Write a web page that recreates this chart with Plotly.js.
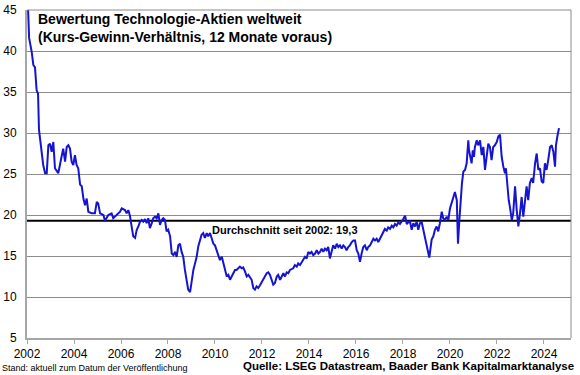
<!DOCTYPE html>
<html>
<head>
<meta charset="utf-8">
<script src="https://cdn.plot.ly/plotly-3.0.1.min.js"></script>
<style>
html,body{margin:0;padding:0;background:#fff;}
#chart{width:580px;height:375px;}
</style>
</head>
<body>
<div id="chart"></div>
<script>
// Decimal years
const dates = [
2002.00,2002.04,2002.09,2002.20,2002.27,2002.34,2002.41,2002.47,2002.51,2002.57,2002.63,2002.69,2002.77,2002.84,2002.91,2002.98,
2003.05,2003.12,2003.19,2003.33,2003.40,2003.48,2003.54,2003.62,2003.69,2003.76,2003.83,2003.90,2003.97,
2004.04,2004.11,2004.18,2004.26,2004.33,2004.40,2004.47,2004.54,2004.61,2004.75,2004.89,2004.97,
2005.03,2005.11,2005.25,2005.32,2005.46,2005.60,2005.67,2005.82,2005.96,
2006.03,2006.17,2006.24,2006.31,2006.38,2006.46,2006.52,2006.60,2006.67,2006.74,2006.81,2006.88,2006.95,
2007.02,2007.09,2007.16,2007.23,2007.31,2007.37,2007.45,2007.52,2007.59,2007.66,2007.73,2007.80,2007.87,2007.94,
2008.01,2008.09,2008.16,2008.23,2008.30,2008.37,2008.44,2008.51,2008.58,2008.65,2008.72,2008.80,2008.86,2008.94,
2009.01,2009.08,2009.15,2009.22,2009.29,2009.36,2009.43,2009.50,2009.57,2009.65,2009.71,2009.79,2009.86,2009.93,
2010.00,2010.07,2010.14,2010.21,2010.29,2010.35,2010.43,2010.50,2010.57,2010.64,2010.71,2010.78,2010.85,2010.92,2010.99,
2011.06,2011.14,2011.20,2011.28,2011.35,2011.42,2011.49,2011.56,2011.63,2011.70,2011.77,2011.84,2011.91,
2012.06,2012.20,2012.27,2012.34,2012.41,2012.48,2012.55,2012.63,2012.69,2012.77,2012.84,2012.91,2012.98,
2013.05,2013.12,2013.19,2013.33,2013.40,2013.48,2013.54,2013.62,2013.69,2013.76,2013.83,2013.90,2013.97,
2014.04,2014.11,2014.18,2014.26,2014.33,2014.40,2014.47,2014.54,2014.61,2014.68,2014.75,2014.82,2014.89,2014.97,
2015.03,2015.11,2015.18,2015.25,2015.32,2015.39,2015.46,2015.53,2015.60,2015.67,2015.74,2015.82,2015.89,2015.96,
2016.03,2016.10,2016.17,2016.24,2016.31,2016.38,2016.46,2016.52,2016.60,2016.67,2016.74,2016.81,2016.88,2016.95,
2017.02,2017.09,2017.16,2017.23,2017.31,2017.37,2017.45,2017.52,2017.59,2017.66,2017.73,2017.80,2017.87,2017.94,
2018.01,2018.09,2018.16,2018.23,2018.30,2018.37,2018.44,2018.51,2018.58,2018.65,2018.72,2018.79,2018.86,2018.94,
2019.01,2019.08,2019.12,2019.18,2019.22,2019.29,2019.36,2019.43,2019.50,2019.57,2019.65,2019.71,2019.79,2019.86,2019.93,
2020.00,2020.07,2020.14,2020.21,2020.29,2020.31,2020.34,2020.40,2020.46,2020.51,2020.57,2020.64,2020.71,2020.78,2020.81,2020.85,2020.92,2020.97,
2021.02,2021.06,2021.14,2021.20,2021.28,2021.35,2021.42,2021.49,2021.56,2021.63,2021.70,2021.77,2021.84,2021.91,2021.99,
2022.06,2022.13,2022.20,2022.27,2022.34,2022.38,2022.44,2022.50,2022.55,2022.63,2022.69,2022.77,2022.84,2022.91,2022.98,
2023.05,2023.12,2023.19,2023.26,2023.33,2023.40,2023.48,2023.54,2023.62,2023.69,2023.76,2023.83,2023.90,2023.97,
2024.04,2024.11,2024.18,2024.26,2024.33,2024.40,2024.47,2024.51,2024.57,2024.64
];
// Price-earnings ratio, 12 months forward
const peValues = [
46.0,45.6,41.6,39.9,38.3,38.0,35.2,34.8,30.4,29.0,27.7,26.1,25.1,25.1,28.5,28.7,
27.7,28.9,25.7,25.1,26.1,27.3,28.1,26.5,28.3,28.5,28.1,26.5,26.1,
27.3,26.1,25.7,23.7,23.5,22.0,21.2,22.0,20.4,20.2,20.2,21.6,
21.4,20.2,20.0,19.3,20.0,20.2,19.6,20.0,20.4,
20.8,20.6,20.2,20.6,19.9,18.6,17.4,17.2,18.2,18.6,19.2,19.4,19.2,
19.5,19.0,19.6,18.4,19.0,19.6,19.8,19.6,20.2,18.8,19.4,19.6,19.4,18.0,
18.2,17.4,15.3,15.1,15.5,14.9,16.3,16.5,15.5,14.9,13.3,12.1,10.9,10.6,
12.1,13.3,14.1,14.9,16.2,17.0,17.6,17.8,17.2,17.8,17.4,17.8,17.2,16.5,
16.3,15.7,14.9,14.5,14.9,14.3,13.3,12.5,12.7,12.1,12.5,12.9,13.3,13.3,13.5,
13.7,13.5,13.6,13.1,12.5,12.7,12.3,12.1,11.1,10.9,11.3,11.1,11.4,
12.1,12.9,13.0,12.7,12.1,11.5,11.7,12.5,12.7,12.1,12.5,12.9,12.5,
13.0,12.9,13.3,13.5,13.9,13.7,14.1,13.9,14.3,14.5,14.9,14.7,15.5,
15.3,15.5,15.1,15.3,15.7,15.3,15.5,15.9,15.5,15.9,15.7,16.1,14.7,15.7,
16.3,15.9,16.5,16.1,16.3,15.9,16.3,16.1,15.7,16.1,16.3,16.7,16.9,16.9,
15.7,15.3,14.3,15.3,16.1,16.3,15.7,16.1,16.3,16.7,17.1,16.9,17.1,16.7,
17.1,17.3,17.7,18.3,18.1,18.5,18.3,18.7,18.5,18.9,18.7,19.1,18.9,19.3,
19.5,19.9,18.9,19.1,19.2,18.2,19.0,18.6,19.2,18.2,19.0,19.2,18.2,17.4,
16.5,15.5,14.8,16.1,17.0,17.4,18.2,18.6,18.0,19.0,20.4,19.6,19.4,19.8,19.4,
20.8,21.4,22.0,22.8,21.8,18.2,16.5,19.4,22.2,23.9,25.3,25.5,26.3,29.1,27.9,27.1,26.3,27.9,
27.1,28.3,29.1,28.5,29.1,27.3,28.3,25.5,27.1,28.7,28.3,26.7,28.3,28.5,28.9,
29.6,29.8,27.1,25.9,25.1,25.7,23.5,21.8,21.0,19.4,20.2,23.5,20.6,18.6,20.2,
22.2,19.8,21.8,23.5,21.8,23.9,24.5,23.9,26.3,27.5,25.5,25.7,24.1,23.9,
26.3,25.5,26.7,28.3,28.5,27.7,25.9,28.5,29.6,30.6
];
const meanValue = 19.3;
const meanLabel = "Durchschnitt seit 2002: 19,3";
const xTickVals = [2002,2004,2006,2008,2010,2012,2014,2016,2018,2020,2022,2024];
const xTickText = ["2002","2004","2006","2008","2010","2012","2014","2016","2018","2020","2022","2024"];
const yTickVals = [5,10,15,20,25,30,35,40,45];
const titleLines = ["Bewertung Technologie-Aktien weltweit","(Kurs-Gewinn-Verhältnis, 12 Monate voraus)"];
const footLeft = "Stand: aktuell zum Datum der Veröffentlichung";
const footRight = "Quelle: LSEG Datastream, Baader Bank Kapitalmarktanalyse";

const FONT = "Arial, 'Liberation Sans', sans-serif";

const traces = [{
  type: "scatter", mode: "lines",
  x: dates, y: peValues,
  line: {color: "#1414d2", width: 2},
  hoverinfo: "skip"
}];

const layout = {
  width: 580, height: 375,
  margin: {l: 27, r: 9, t: 10, b: 37},
  paper_bgcolor: "#fff", plot_bgcolor: "#fff",
  showlegend: false,
  font: {family: FONT, color: "#000"},
  xaxis: {
    range: [2002, 2025.15],
    tickvals: xTickVals, ticktext: xTickText,
    showgrid: false, zeroline: false,
    showline: true, linecolor: "#a6a6a6", linewidth: 2, mirror: false,
    ticks: "outside", ticklen: 4, tickcolor: "#a6a6a6", tickwidth: 1,
    tickfont: {size: 12, family: FONT, color: "#000"}
  },
  xaxis2: {overlaying: "x", range: [0,1], showline: true, linecolor: "#8c8c8c", linewidth: 1, side: "top", showticklabels: false, ticks: "", showgrid: false, zeroline: false},
  yaxis: {
    range: [5, 45],
    tickvals: yTickVals,
    showgrid: true, gridcolor: "#8c8c8c", gridwidth: 1,
    zeroline: false,
    showline: true, linecolor: "#a6a6a6", linewidth: 2,
    ticks: "", ticklabelstandoff: 6,
    tickfont: {size: 12, family: FONT, color: "#000"}
  },
  shapes: [
    {type: "line", xref: "paper", yref: "y", x0: 0, x1: 1, y0: meanValue, y1: meanValue,
     line: {color: "#000", width: 2}, layer: "below"},
    {type: "line", xref: "paper", yref: "paper", x0: 0, x1: 1, y0: 1, y1: 1, line: {color: "#8c8c8c", width: 1}},
    {type: "line", xref: "paper", yref: "paper", x0: 1, x1: 1, y0: 0, y1: 1, line: {color: "#8c8c8c", width: 1}}
  ],
  annotations: [
    {xref: "paper", yref: "paper", x: 0.0165, y: 1, xanchor: "left", yanchor: "top", yshift: 1,
     align: "left", showarrow: false,
     text: "<b>" + titleLines[0] + "<br>" + titleLines[1] + "</b>",
     font: {size: 14, family: FONT, color: "#000"}},
    {xref: "x", yref: "y", x: 2013.0, y: meanValue, xanchor: "center", yanchor: "top", yshift: -1,
     showarrow: false, text: "<b>" + meanLabel + "</b>",
     font: {size: 11, family: FONT, color: "#000"}},
    {xref: "paper", yref: "paper", x: -0.0496, y: -0.09, xanchor: "left", yanchor: "middle",
     showarrow: false, text: footLeft, font: {size: 9, family: FONT, color: "#000"}},
    {xref: "paper", yref: "paper", x: 1.01, y: -0.085, xanchor: "right", yanchor: "middle",
     showarrow: false, text: "<b>" + footRight + "</b>", font: {size: 11.5, family: FONT, color: "#000"}}
  ]
};

Plotly.newPlot("chart", traces, layout, {displayModeBar: false, staticPlot: true});
</script>
</body>
</html>
